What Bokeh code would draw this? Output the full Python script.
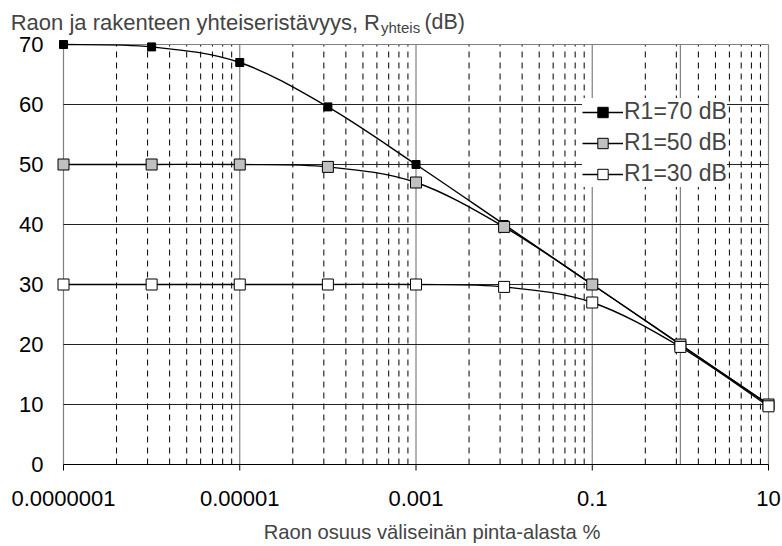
import numpy as np
from bokeh.plotting import figure
from bokeh.models import Range1d, Label, Legend, LegendItem
from bokeh.core.properties import value
from bokeh.embed import file_html
from bokeh.resources import INLINE

# ---- data ----
x_pct = [1e-7, 1e-6, 1e-5, 1e-4, 1e-3, 1e-2, 0.1, 1, 10]
r70 = [70.0, 69.6, 67.0, 59.6, 50.0, 40.0, 30.0, 20.0, 10.0]
r50 = [50.0, 50.0, 50.0, 49.6, 47.0, 39.6, 30.0, 20.0, 10.0]
r30 = [30.0, 30.0, 30.0, 30.0, 30.0, 29.6, 27.0, 19.6, 9.7]
series_names = ["R1=70 dB", "R1=50 dB", "R1=30 dB"]
x_major = [1e-7, 1e-5, 1e-3, 0.1, 10]
x_major_labels = ["0.0000001", "0.00001", "0.001", "0.1", "10"]
y_ticks = [0, 10, 20, 30, 40, 50, 60, 70]
y_tick_labels = [str(v) for v in y_ticks]

FONT = "Liberation Sans"

# the frame covers the whole canvas; the chart's plot area sits inside it
W, H = 782, 546
dec_px = 705 / 8.0
lpad = 63 / dec_px
rpad = 14 / dec_px
px_per_db = 6.0
ybot = -(H - 464) / px_per_db
ytop = 70 + 44 / px_per_db

p = figure(x_axis_type="log", x_axis_location=None, y_axis_location=None,
           output_backend="svg", toolbar_location=None,
           frame_width=W, frame_height=H,
           min_border_left=0, min_border_right=0, min_border_top=0, min_border_bottom=0,
           x_range=Range1d(10 ** (np.log10(x_major[0]) - lpad), 10 ** (np.log10(x_major[-1]) + rpad)),
           y_range=Range1d(ybot, ytop))
p.outline_line_color = None
p.grid.visible = False
p.background_fill_color = "white"
p.border_fill_color = "white"

x0, x1 = x_major[0], x_major[-1]

# minor dashed vertical grid (Excel-like: k^2 multiples within each 2-decade step)
minor = []
for m in x_major[:-1]:
    for k in range(2, 10):
        minor.append(m * k * k)
p.segment(x0=minor, y0=[0] * len(minor), x1=minor, y1=[70] * len(minor),
          line_color="black", line_width=1, line_dash="6 5")

# major vertical grid (gray)
vmaj = x_major[1:] + [1]
p.segment(x0=vmaj, y0=[0] * len(vmaj), x1=vmaj, y1=[70] * len(vmaj),
          line_color="#808080", line_width=1.2)
# left value-axis line
p.segment(x0=[x0], y0=[0], x1=[x0], y1=[70], line_color="#808080", line_width=1.2)

# horizontal grid
hy = y_ticks[1:-1]
p.segment(x0=[x0] * len(hy), y0=hy, x1=[x1] * len(hy), y1=hy, line_color="#222222", line_width=1)
p.segment(x0=[x0], y0=[70], x1=[x1], y1=[70], line_color="#808080", line_width=1.2)
p.segment(x0=[x0], y0=[0], x1=[x1], y1=[0], line_color="black", line_width=1.2)

# x-axis tick marks (6 px below the category axis)
p.segment(x0=x_major, y0=[0] * len(x_major), x1=x_major, y1=[-6 / px_per_db] * len(x_major),
          line_color="black", line_width=1)

# x tick labels
p.text(x=x_major, y=[0] * len(x_major), text=x_major_labels, y_offset=33.5,
       text_align="center", text_baseline="middle", text_font=value(FONT),
       text_font_size="22px", text_color="black")

# y tick labels
p.text(x=[x0] * len(y_ticks), y=y_ticks, text=y_tick_labels, x_offset=-20,
       text_align="right", text_baseline="middle", text_font=value(FONT),
       text_font_size="22px", text_color="black")


def smooth(xs, ys):
    lx = np.log10(np.array(xs, dtype=float))
    y = np.array(ys, dtype=float)
    n = len(lx)
    X0, Y0, X1, Y1, CX0, CY0, CX1, CY1 = [], [], [], [], [], [], [], []
    for i in range(n - 1):
        ip = max(i - 1, 0)
        inn = min(i + 2, n - 1)
        c0x = lx[i] + (lx[i + 1] - lx[ip]) / 6.0
        c0y = y[i] + (y[i + 1] - y[ip]) / 6.0
        c1x = lx[i + 1] - (lx[inn] - lx[i]) / 6.0
        c1y = y[i + 1] - (y[inn] - y[i]) / 6.0
        X0.append(10 ** lx[i]); Y0.append(y[i])
        X1.append(10 ** lx[i + 1]); Y1.append(y[i + 1])
        CX0.append(10 ** c0x); CY0.append(c0y)
        CX1.append(10 ** c1x); CY1.append(c1y)
    return dict(x0=X0, y0=Y0, x1=X1, y1=Y1, cx0=CX0, cy0=CY0, cx1=CX1, cy1=CY1)


styles = [("black", 8), ("#c0c0c0", 11), ("white", 11)]
items = []
for name, ys, (fc, sz) in zip(series_names, [r70, r50, r30], styles):
    d = smooth(x_pct, ys)
    p.bezier(line_color="black", line_width=1.4, **d)
    lr = p.line(x=[1, 1], y=[np.nan, np.nan], line_color="black", line_width=1.4)
    sr = p.scatter(x=x_pct, y=ys, marker="square", size=sz, fill_color=fc,
                   line_color="black", line_width=1)
    items.append(LegendItem(label=name, renderers=[lr, sr]))

legend = Legend(items=items, location=(582, 359), orientation="vertical",
                label_text_font=FONT, label_text_font_size="23px",
                glyph_width=41, glyph_height=26, label_height=26, label_standoff=1,
                spacing=4, padding=4, margin=0,
                background_fill_color="white", background_fill_alpha=1,
                border_line_color=None)
p.add_layout(legend, "center")

# title pieces (screen units measured from the frame's bottom-left)
p.add_layout(Label(x=379.5, y=H - 21.7, x_units="screen", y_units="screen",
                   text="Raon ja rakenteen yhteiseristävyys, R", text_font=FONT,
                   text_font_size="22px", text_baseline="alphabetic", text_align="right"))
p.add_layout(Label(x=380.5, y=H - 27, x_units="screen", y_units="screen",
                   text="yhteis", text_font=FONT,
                   text_font_size="15px", text_baseline="alphabetic", text_align="left"))
p.add_layout(Label(x=424, y=H - 21.7, x_units="screen", y_units="screen",
                   text="(dB)", text_font=FONT,
                   text_font_size="21.4px", text_baseline="alphabetic", text_align="left"))

# x-axis title
p.add_layout(Label(x=431.5, y=H - 531.5, x_units="screen", y_units="screen",
                   text="Raon osuus väliseinän pinta-alasta %", text_font=FONT,
                   text_font_size="20.2px", text_baseline="alphabetic", text_align="center"))

open("out.html", "w").write(file_html(p, INLINE))
